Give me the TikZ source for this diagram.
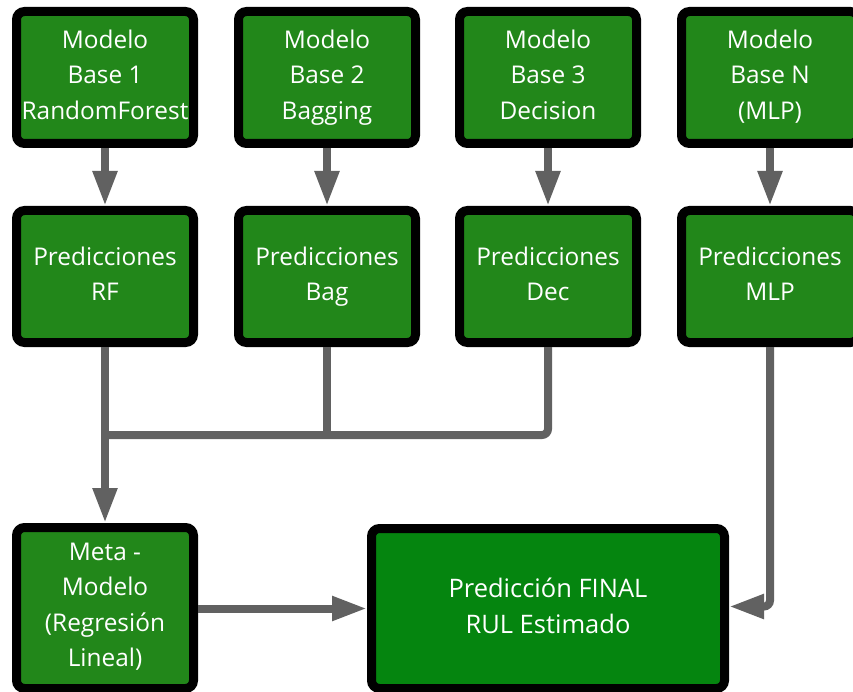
\documentclass[tikz,border=0pt]{standalone}
\usepackage{fontspec}
\setmainfont{Open Sans}
\usetikzlibrary{arrows.meta}
\definecolor{boxgreen}{HTML}{22871A}
\definecolor{finalgreen}{HTML}{05850F}
\definecolor{wire}{HTML}{616161}
\begin{document}
\begin{tikzpicture}[x=1pt,y=-1pt,
  blk/.style={draw=black, line width=9pt, rounded corners=8pt, fill=boxgreen,
    text=white, align=center, inner sep=0pt,
    font=\fontsize{24.4}{35.5}\selectfont,
    % fixed first-line height and last-line depth keep baselines uniform
    execute at begin node={\rule{0pt}{28pt}},
    execute at end node={\rule[-6pt]{0pt}{6pt}},
    minimum width=177pt, minimum height=132pt},
  wireline/.style={draw=wire, line width=8pt},
  feed/.style={wireline, -{Triangle[length=35pt,width=23pt]}}]
\useasboundingbox (0,0) rectangle (853,692);
\clip (0,0) rectangle (853,692);

% base models
\node[blk] (m1) at (105,77.5) {Modelo\\Base 1\\RandomForest};
\node[blk] (m2) at (327,77.5) {Modelo\\Base 2\\Bagging};
\node[blk] (m3) at (548,77.5) {Modelo\\Base 3\\Decision};
\node[blk] (m4) at (770,77.5) {Modelo\\Base N\\(MLP)};

% per-model predictions
\node[blk] (p1) at (105,276.5) {Predicciones\\RF};
\node[blk] (p2) at (327,276.5) {Predicciones\\Bag};
\node[blk] (p3) at (548,276.5) {Predicciones\\Dec};
\node[blk] (p4) at (770,276.5) {Predicciones\\MLP};

% meta-model (text sits a little below centre) and final output
\node[blk, minimum height=161pt, execute at begin node={\rule{0pt}{39.5pt}}] (meta) at (105,608)
  {Meta -\\Modelo\\(Regresión\\Lineal)};
\node[blk, fill=finalgreen, minimum width=353pt, minimum height=160pt,
  font=\fontsize{25.5}{36}\selectfont] (final) at (548,608.5)
  {Predicción FINAL\\RUL Estimado};

\coordinate (bus) at (105,435);

% base models to predictions
\draw[feed] (m1) -- (p1);
\draw[feed] (m2) -- (p2);
\draw[feed] (m3) -- (p3);
\draw[feed] (m4) -- (p4);

% predictions collected on a common bus
\draw[wireline, rounded corners=6pt] (p3.south) |- (bus);
\draw[wireline] (p2.south) -- (p2.south |- bus);
\draw[feed] (p1.south) -- (meta.north);

% outputs into the final prediction
\draw[feed] (meta.east |- final.west) -- (final.west);
\draw[feed, rounded corners=6pt] (p4.south) |- ([yshift=2pt]final.east);
\end{tikzpicture}
\end{document}
